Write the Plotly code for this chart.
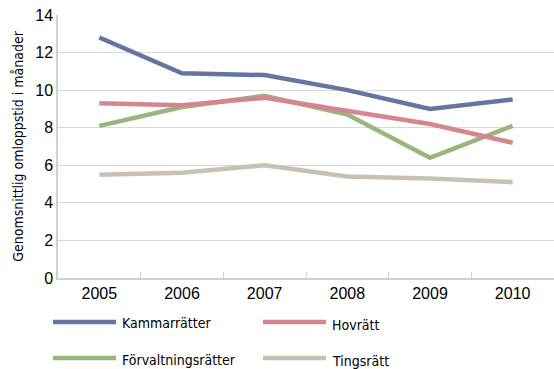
import plotly.graph_objects as go

years = ["2005", "2006", "2007", "2008", "2009", "2010"]
series_names = ["Kammarrätter", "Hovrätt", "Förvaltningsrätter", "Tingsrätt"]
kammarratter = [12.8, 10.9, 10.8, 10.0, 9.0, 9.5]
hovratt = [9.3, 9.2, 9.6, 8.9, 8.2, 7.2]
forvaltningsratter = [8.1, 9.1, 9.7, 8.7, 6.4, 8.1]
tingsratt = [5.5, 5.6, 6.0, 5.4, 5.3, 5.1]
y_ticks = [0, 2, 4, 6, 8, 10, 12, 14]

colors = ["#6574A1", "#D5858F", "#98B57B", "#C9C0B4"]
values = [kammarratter, hovratt, forvaltningsratter, tingsratt]
# draw order: Tingsrätt at back, Kammarrätter on top
order = [3, 2, 1, 0]

fig = go.Figure()
for i in order:
    fig.add_trace(go.Scatter(x=years, y=values[i], name=series_names[i], mode="lines",
                             line=dict(color=colors[i], width=4.5), showlegend=False))

narrow = "DejaVu Sans Condensed, Liberation Sans Narrow, Liberation Sans, sans-serif"
# manual legend (2x2 grid) in paper-pixel terms
W, H = 554, 369
ml, mr, mt, mb = 58, 0, 15, 91
pw, ph = W - ml - mr, H - mt - mb
def px(x):
    return (x - ml) / pw
def py(y):
    return (H - mb - y) / ph
legend_pos = [(53, 322), (263, 322), (53, 358), (263, 358)]
text_dy = [1, 3, 2, 3]
for i, name in enumerate(series_names):
    x0, y0 = legend_pos[i]
    fig.add_shape(type="line", xref="paper", yref="paper", x0=px(x0), x1=px(x0 + 63),
                  y0=py(y0), y1=py(y0), line=dict(color=colors[i], width=4.5))
    fig.add_annotation(xref="paper", yref="paper", x=px(x0 + 67), y=py(y0 + text_dy[i]),
                       text=name, showarrow=False, xanchor="left", yanchor="middle",
                       font=dict(family=narrow, size=14, color="#000000"))

fig.update_layout(
    width=W, height=H,
    margin=dict(l=ml, r=mr, t=mt, b=mb),
    plot_bgcolor="white", paper_bgcolor="white",
    showlegend=False,
    font=dict(family="Liberation Sans", size=16, color="#000000"),
)
fig.update_xaxes(type="category", range=[-0.5, 5.5], showgrid=False,
                 showline=True, linecolor="#D0D0D0", linewidth=1.5,
                 ticks="inside", tickson="boundaries", ticklen=6, tickcolor="#D0D0D0",
                 tickfont=dict(family="Liberation Sans", size=16, color="#000000"))
fig.update_yaxes(range=[0, 14], tickvals=y_ticks, showgrid=True, gridcolor="#D9D9D9",
                 gridwidth=1.2, showline=True, linecolor="#D0D0D0", linewidth=1.5,
                 zeroline=False, ticks="", tickfont=dict(family="Liberation Sans", size=16, color="#000000"),
                 title=dict(text="Genomsnittlig omloppstid i månader",
                            font=dict(family=narrow, size=14, color="#000000"), standoff=8))

fig.write_html("out.html", config={"displayModeBar": False},
               post_script="document.body.style.margin='0';document.body.style.padding='0';")
